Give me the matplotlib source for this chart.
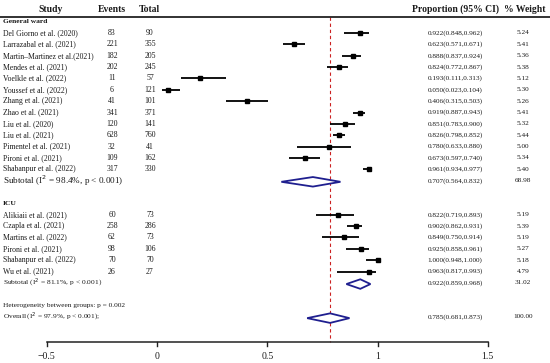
import matplotlib.pyplot as plt

plt.rcParams['font.family'] = ['Liberation Serif', 'DejaVu Serif']

# General ward studies
gw_study = ["Del Giorno et al. (2020)", "Larrazabal et al. (2021)", "Martin\u2013Martinez et al.(2021)",
            "Mendes et al. (2021)", "Voelkle et al. (2022)", "Youssef et al. (2022)", "Zhang et al. (2021)",
            "Zhao et al. (2021)", "Liu et al. (2020)", "Liu et al. (2021)", "Pimentel et al. (2021)",
            "Pironi et al. (2021)", "Shabanpur et al. (2022)"]
gw_events = [83, 221, 182, 202, 11, 6, 41, 341, 120, 628, 32, 109, 317]
gw_total = [90, 355, 205, 245, 57, 121, 101, 371, 141, 760, 41, 162, 330]
gw_est = [0.922, 0.623, 0.888, 0.824, 0.193, 0.050, 0.406, 0.919, 0.851, 0.826, 0.780, 0.673, 0.961]
gw_lo = [0.848, 0.571, 0.837, 0.772, 0.111, 0.023, 0.315, 0.887, 0.783, 0.798, 0.633, 0.597, 0.934]
gw_hi = [0.962, 0.671, 0.924, 0.867, 0.313, 0.104, 0.503, 0.943, 0.900, 0.852, 0.880, 0.740, 0.977]
gw_weight = ["5.24", "5.41", "5.36", "5.38", "5.12", "5.30", "5.26", "5.41", "5.32", "5.44", "5.00", "5.34", "5.40"]
gw_sub = (0.707, 0.564, 0.832, "68.98")

# ICU studies
icu_study = ["Alikiaii et al. (2021)", "Czapla et al. (2021)", "Martins et al. (2022)",
             "Pironi et al. (2021)", "Shabanpur et al. (2022)", "Wu et al. (2021)"]
icu_events = [60, 258, 62, 98, 70, 26]
icu_total = [73, 286, 73, 106, 70, 27]
icu_est = [0.822, 0.902, 0.849, 0.925, 1.000, 0.963]
icu_lo = [0.719, 0.862, 0.750, 0.858, 0.948, 0.817]
icu_hi = [0.893, 0.931, 0.914, 0.961, 1.000, 0.993]
icu_weight = ["5.19", "5.39", "5.19", "5.27", "5.18", "4.79"]
icu_sub = (0.922, 0.859, 0.968, "31.02")

overall = (0.785, 0.681, 0.873, "100.00")
xticks = [-0.5, 0, 0.5, 1, 1.5]
xticklabels = ["\u22120.5", "0", "0.5", "1", "1.5"]

TXT = '#1a1a1a'
NAVY = '#1f1f8f'
BODY = 5.6
SMALL = 5.2


def px(p):
    # pixel column -> data x
    return (p - 157) / 220.5


fig = plt.figure(figsize=(5.5, 3.63), dpi=100)
ax = fig.add_axes([0, 0, 1, 1])
ax.axis('off')
ax.set_xlim(px(0), px(550))
ax.set_ylim(1 + 330 / 11.36, 1 - 33 / 11.36)


def fmt(e, l, h):
    return "%.3f(%.3f,%.3f)" % (e, l, h)


def diamond(y, e, l, h):
    ax.fill([l, e, h, e, l], [y, y - 0.42, y, y + 0.42, y], facecolor='white',
            edgecolor=NAVY, lw=1.3, zorder=3)


# header
hy = -1.1
hdr = dict(ha='center', va='center', fontsize=6.9, fontweight='bold', color=TXT)
ax.text(px(51), hy, "Study", **hdr)
ax.text(px(112), hy, "Events", **hdr)
ax.text(px(149), hy, "Total", **hdr)
ax.text(px(455), hy, "Proportion (95% CI)", **hdr)
ax.text(px(525), hy, "% Weight", **hdr)
ax.plot([px(0), px(550)], [-0.45, -0.45], color='#222222', lw=1.3)


def group(start, name, study, events, total, est, lo, hi, weight, sub, subtxt, subsize):
    ax.text(px(3), start, name, ha='left', va='center', fontsize=5.4, fontweight='bold', color=TXT)
    for i in range(len(study)):
        y = start + 1 + i
        ax.text(px(3), y, study[i], ha='left', va='center', fontsize=BODY, color=TXT)
        ax.text(px(112), y, str(events[i]), ha='center', va='center', fontsize=BODY, color=TXT)
        ax.text(px(150), y, str(total[i]), ha='center', va='center', fontsize=BODY, color=TXT)
        ax.plot([lo[i], hi[i]], [y, y], color='black', lw=1.3, solid_capstyle='butt', zorder=2)
        ax.plot(est[i], y, 's', color='black', ms=2.6, zorder=3)
        ax.text(px(455), y, fmt(est[i], lo[i], hi[i]), ha='center', va='center', fontsize=SMALL, color=TXT)
        ax.text(px(523), y, weight[i], ha='center', va='center', fontsize=SMALL, color=TXT)
    ys = start + 1 + len(study)
    ax.text(px(3), ys, subtxt, ha='left', va='center', fontsize=subsize, color=TXT)
    diamond(ys + 0.1, sub[0], sub[1], sub[2])
    ax.text(px(455), ys, fmt(sub[0], sub[1], sub[2]), ha='center', va='center', fontsize=SMALL, color=TXT)
    ax.text(px(523), ys, sub[3], ha='center', va='center', fontsize=SMALL, color=TXT)


group(0, "General ward", gw_study, gw_events, gw_total, gw_est, gw_lo, gw_hi, gw_weight, gw_sub,
      "Subtotal (I$^2$ = 98.4%, p < 0.001)", 6.6)
group(16, "ICU", icu_study, icu_events, icu_total, icu_est, icu_lo, icu_hi, icu_weight, icu_sub,
      "Subtotal (I$^2$ = 81.1%, p < 0.001)", 5.4)

ax.text(px(3), 25, "Heterogeneity between groups: p = 0.002", ha='left', va='center', fontsize=5.3, color=TXT)
ax.text(px(3), 26, "Overall (I$^2$ = 97.9%, p < 0.001);", ha='left', va='center', fontsize=5.3, color=TXT)
diamond(26.1, overall[0], overall[1], overall[2])
ax.text(px(455), 26, fmt(overall[0], overall[1], overall[2]), ha='center', va='center', fontsize=SMALL, color=TXT)
ax.text(px(523), 26, overall[3], ha='center', va='center', fontsize=SMALL, color=TXT)

# reference line at overall estimate
ax.plot([overall[0], overall[0]], [-0.45, 28.2], color='#cc2222', lw=0.8, ls=(0, (3, 2.5)), zorder=1)

# x axis
ax.plot([xticks[0], xticks[-1]], [28.2, 28.2], color='#222222', lw=1.1)
for t, lab in zip(xticks, xticklabels):
    ax.plot([t, t], [28.2, 28.55], color='#222222', lw=1.0)
    ax.text(t, 29.45, lab, ha='center', va='center', fontsize=7, color=TXT)

fig.savefig("out.png", dpi=100)
